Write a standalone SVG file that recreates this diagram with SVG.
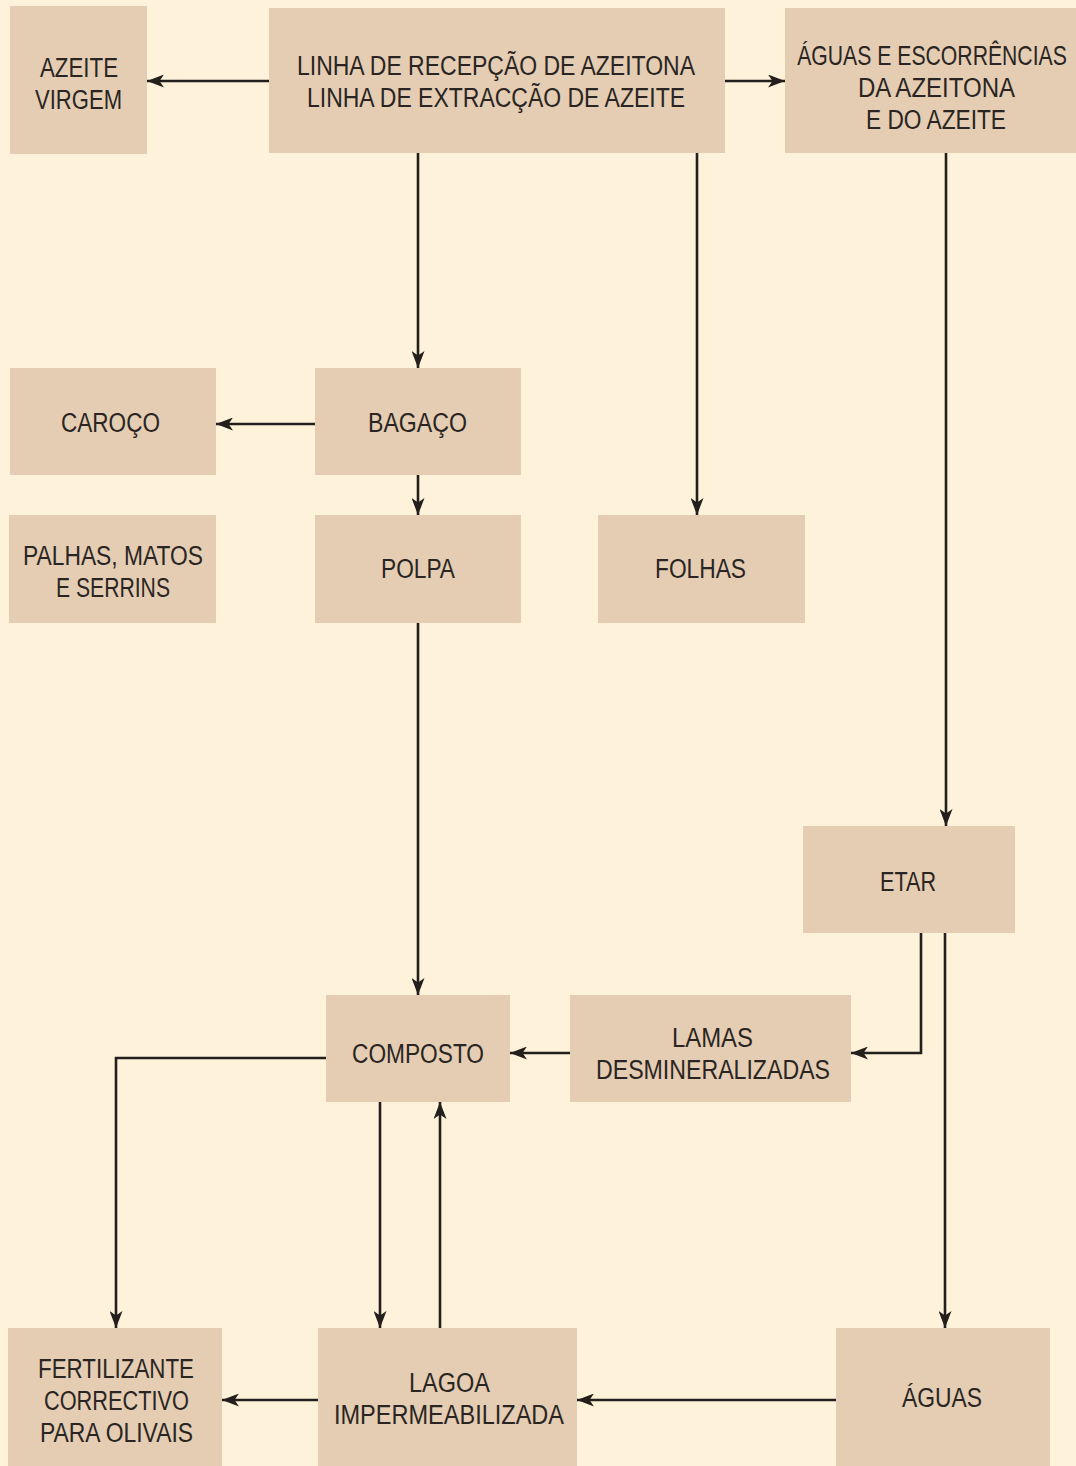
<svg xmlns="http://www.w3.org/2000/svg" width="1076" height="1466" viewBox="0 0 1076 1466">
<defs>
<style>
.n{fill:#E4CDB3}
.t{font-family:"Liberation Sans",Arial,sans-serif;font-size:27px;fill:#2A2522;text-anchor:middle}
.c{fill:none;stroke:#231F1C;stroke-width:2.6}
</style>
<marker id="a" viewBox="0 0 17 13" refX="17" refY="6.5" markerWidth="17" markerHeight="13" markerUnits="userSpaceOnUse" orient="auto">
<path d="M0,0 L17,6.5 L0,13 L4.5,6.5 Z" fill="#231F1C"/>
</marker>
</defs>
<rect width="1076" height="1466" fill="#FEF2DA"/>
<g id="connectors">
<path class="c" marker-end="url(#a)" d="M269,81 H147"/>
<path class="c" marker-end="url(#a)" d="M725,81 H785"/>
<path class="c" marker-end="url(#a)" d="M418,153 V368"/>
<path class="c" marker-end="url(#a)" d="M697,153 V515"/>
<path class="c" marker-end="url(#a)" d="M946,153 V826"/>
<path class="c" marker-end="url(#a)" d="M315,424 H216"/>
<path class="c" marker-end="url(#a)" d="M418,475 V515"/>
<path class="c" marker-end="url(#a)" d="M418,623 V995"/>
<path class="c" marker-end="url(#a)" d="M921,933 V1053 H851"/>
<path class="c" marker-end="url(#a)" d="M945,933 V1328"/>
<path class="c" marker-end="url(#a)" d="M570,1053 H510"/>
<path class="c" marker-end="url(#a)" d="M326,1058 H116 V1328"/>
<path class="c" marker-end="url(#a)" d="M380,1102 V1328"/>
<path class="c" marker-end="url(#a)" d="M440,1328 V1102"/>
<path class="c" marker-end="url(#a)" d="M318,1400 H222"/>
<path class="c" marker-end="url(#a)" d="M836,1400 H577"/>
</g>
<g id="azeite-virgem"><rect class="n" x="10" y="6" width="137" height="148"/>
<text class="t" x="79" y="77" textLength="78" lengthAdjust="spacingAndGlyphs">AZEITE</text>
<text class="t" x="78.5" y="109" textLength="87" lengthAdjust="spacingAndGlyphs">VIRGEM</text></g>
<g id="linha"><rect class="n" x="269" y="8" width="456" height="145"/>
<text class="t" x="496" y="75" textLength="398" lengthAdjust="spacingAndGlyphs">LINHA DE RECEPÇÃO DE AZEITONA</text>
<text class="t" x="496" y="107" textLength="378" lengthAdjust="spacingAndGlyphs">LINHA DE EXTRACÇÃO DE AZEITE</text></g>
<g id="aguas-escorrencias"><rect class="n" x="785" y="8" width="291" height="145"/>
<text class="t" transform="translate(932,65) scale(0.785,1)" x="0" y="0">ÁGUAS E ESCORRÊNCIAS</text>
<text class="t" x="936.5" y="97" textLength="157" lengthAdjust="spacingAndGlyphs">DA AZEITONA</text>
<text class="t" x="936" y="129" textLength="140" lengthAdjust="spacingAndGlyphs">E DO AZEITE</text></g>
<g id="caroco"><rect class="n" x="10" y="368" width="206" height="107"/>
<text class="t" x="110.5" y="432" textLength="99" lengthAdjust="spacingAndGlyphs">CAROÇO</text></g>
<g id="bagaco"><rect class="n" x="315" y="368" width="206" height="107"/>
<text class="t" x="417.5" y="432" textLength="99" lengthAdjust="spacingAndGlyphs">BAGAÇO</text></g>
<g id="palhas"><rect class="n" x="9" y="515" width="207" height="108"/>
<text class="t" x="113" y="565" textLength="180" lengthAdjust="spacingAndGlyphs">PALHAS, MATOS</text>
<text class="t" x="113" y="597" textLength="114" lengthAdjust="spacingAndGlyphs">E SERRINS</text></g>
<g id="polpa"><rect class="n" x="315" y="515" width="206" height="108"/>
<text class="t" x="418" y="578" textLength="74" lengthAdjust="spacingAndGlyphs">POLPA</text></g>
<g id="folhas"><rect class="n" x="598" y="515" width="207" height="108"/>
<text class="t" x="700.5" y="578" textLength="91" lengthAdjust="spacingAndGlyphs">FOLHAS</text></g>
<g id="etar"><rect class="n" x="803" y="826" width="212" height="107"/>
<text class="t" x="908" y="891" textLength="56" lengthAdjust="spacingAndGlyphs">ETAR</text></g>
<g id="composto"><rect class="n" x="326" y="995" width="184" height="107"/>
<text class="t" x="418" y="1063" textLength="132" lengthAdjust="spacingAndGlyphs">COMPOSTO</text></g>
<g id="lamas"><rect class="n" x="570" y="995" width="281" height="107"/>
<text class="t" x="712.5" y="1047" textLength="81" lengthAdjust="spacingAndGlyphs">LAMAS</text>
<text class="t" x="713" y="1079" textLength="234" lengthAdjust="spacingAndGlyphs">DESMINERALIZADAS</text></g>
<g id="fertilizante"><rect class="n" x="8" y="1328" width="214" height="138"/>
<text class="t" x="116" y="1378" textLength="156" lengthAdjust="spacingAndGlyphs">FERTILIZANTE</text>
<text class="t" x="116.5" y="1410" textLength="145" lengthAdjust="spacingAndGlyphs">CORRECTIVO</text>
<text class="t" x="116.5" y="1442" textLength="153" lengthAdjust="spacingAndGlyphs">PARA OLIVAIS</text></g>
<g id="lagoa"><rect class="n" x="318" y="1328" width="259" height="138"/>
<text class="t" x="449.5" y="1392" textLength="81" lengthAdjust="spacingAndGlyphs">LAGOA</text>
<text class="t" x="449" y="1424" textLength="230" lengthAdjust="spacingAndGlyphs">IMPERMEABILIZADA</text></g>
<g id="aguas"><rect class="n" x="836" y="1328" width="214" height="138"/>
<text class="t" x="942" y="1407" textLength="80" lengthAdjust="spacingAndGlyphs">ÁGUAS</text></g>
</svg>
